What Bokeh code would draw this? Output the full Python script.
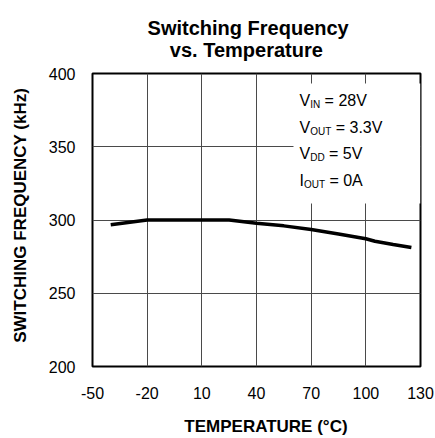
from bokeh.plotting import figure
from bokeh.models import Range1d, FixedTicker
from bokeh.core.properties import value
from bokeh.embed import file_html
from bokeh.resources import INLINE

# data
temperature = [-40, -20, 10, 25, 40, 55, 70, 85, 100, 105, 115, 125]
frequency = [296.7, 300.0, 300.0, 300.0, 297.8, 296.0, 293.5, 290.5, 287.2, 285.5, 283.3, 281.2]

x_ticks = [-50, -20, 10, 40, 70, 100, 130]
x_tick_labels = ["-50", "-20", "10", "40", "70", "100", "130"]
y_ticks = [200, 250, 300, 350, 400]
y_tick_labels = ["200", "250", "300", "350", "400"]

title_lines = ["Switching Frequency", "vs. Temperature"]
x_label = "TEMPERATURE (°C)"
y_label = "SWITCHING FREQUENCY (kHz)"

cond_main = ["V", "V", "V", "I"]
cond_sub = ["IN", "OUT", "DD", "OUT"]
cond_rest = ["= 28V", "= 3.3V", "= 5V", "= 0A"]
cond_y = [381.6, 363.1, 345.4, 327.0]
cond_x = 63.6

FONT = "Liberation Sans"
NB = "\u00a0"

p = figure(width=435, height=438, x_range=Range1d(-50, 130), y_range=Range1d(200, 400),
           output_backend="svg", toolbar_location=None,
           min_border_left=92, min_border_right=15, min_border_top=73, min_border_bottom=72)

# two-line title; nbsp padding centres the second line under the first and
# shifts the block slightly left, as in the original
p.title.text = title_lines[0] + NB * 3 + "\n" + NB * 4 + title_lines[1]
p.title.align = "center"
p.title.text_font = FONT
p.title.text_font_size = "20px"
p.title.text_font_style = "bold"
p.title.text_color = "black"
p.title.standoff = 26

p.outline_line_color = "black"
p.outline_line_width = 2
p.outline_line_alpha = 1
p.background_fill_color = None

p.xaxis.ticker = FixedTicker(ticks=x_ticks)
p.yaxis.ticker = FixedTicker(ticks=y_ticks)
p.xaxis.major_label_overrides = dict(zip(x_ticks, x_tick_labels))
p.yaxis.major_label_overrides = dict(zip(y_ticks, y_tick_labels))

for ax in (p.xaxis, p.yaxis):
    ax.axis_line_color = None
    ax.major_tick_line_color = None
    ax.minor_tick_line_color = None
    ax.major_label_text_font = FONT
    ax.major_label_text_font_size = "16px"
    ax.major_label_text_color = "black"
    ax.axis_label_text_font = FONT
    ax.axis_label_text_font_size = "17px"
    ax.axis_label_text_font_style = "bold"
    ax.axis_label_text_color = "black"

p.xaxis.axis_label = NB * 4 + x_label
p.yaxis.axis_label = NB * 2 + y_label
p.xaxis.major_label_standoff = 14
p.yaxis.major_label_standoff = 11
p.xaxis.axis_label_standoff = 15
p.yaxis.axis_label_standoff = 16

p.xgrid.grid_line_color = "#4a4a4a"
p.ygrid.grid_line_color = "#4a4a4a"
p.xgrid.grid_line_alpha = 1
p.ygrid.grid_line_alpha = 1
p.xgrid.grid_line_width = 1
p.ygrid.grid_line_width = 1

# white box behind conditions text
p.quad(left=[60.3], right=[130], bottom=[311.3], top=[393.2],
       fill_color="white", line_color=None)

p.line(temperature, frequency, line_color="black", line_width=3.5)

main_w = {"V": 10.7, "I": 4.4}
sub_w = {"IN": 10.0, "OUT": 21.1, "DD": 14.4}
for m, s, r, yy in zip(cond_main, cond_sub, cond_rest, cond_y):
    mw = main_w[m]
    sw = sub_w[s]
    p.text(x=[cond_x], y=[yy], text=[m], text_font=value(FONT), text_font_size="16px",
           text_baseline="middle", text_align="left", text_color="black")
    p.text(x=[cond_x], y=[yy], text=[s], x_offset=mw, y_offset=4, text_font=value(FONT),
           text_font_size="10px", text_baseline="middle", text_align="left", text_color="black")
    p.text(x=[cond_x], y=[yy], text=[r], x_offset=mw + sw + 4.4, text_font=value(FONT),
           text_font_size="16px", text_baseline="middle", text_align="left", text_color="black")

open("out.html", "w").write(file_html(p, INLINE))
